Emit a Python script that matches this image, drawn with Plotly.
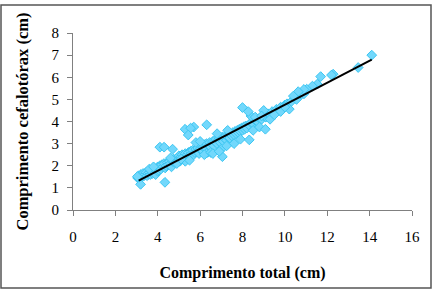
import plotly.graph_objects as go

# Scatter data: comprimento total (cm) vs comprimento cefalotórax (cm)
total_cm = [
    3.05, 3.1, 3.15, 3.2, 3.25, 3.3, 3.35, 3.4, 3.45, 3.5, 3.55, 3.6, 3.65, 3.7, 3.75, 3.8, 3.85, 3.9, 3.95, 4.0,
    4.0, 4.05, 4.1, 4.1, 4.15, 4.2, 4.25, 4.3, 4.35, 4.4, 4.45, 4.5, 4.55, 4.6, 4.65, 4.7, 4.75, 4.8, 4.85, 4.9,
    4.95, 5.0, 5.0, 5.05, 5.1, 5.15, 5.2, 5.25, 5.3, 5.35, 5.4, 5.45, 5.5, 5.55, 5.6, 5.65, 5.7, 5.75, 5.8, 5.85,
    5.9, 5.95, 6.0, 6.05, 6.1, 6.15, 6.2, 6.25, 6.3, 6.35, 6.4, 6.45, 6.5, 6.55, 6.6, 6.65, 6.7, 6.75, 6.8, 6.85,
    6.9, 6.95, 7.0, 7.05, 7.1, 7.15, 7.2, 7.25, 7.3, 7.35, 7.4, 7.45, 7.5, 7.55, 7.6, 7.65, 7.7, 7.75, 7.8, 7.85,
    7.9, 7.95, 8.0, 8.05, 8.1, 8.15, 8.2, 8.3, 8.4, 8.5, 8.6, 8.7, 8.8, 8.9, 9.0, 9.1, 9.2, 9.3, 9.4, 9.5,
    9.6, 9.7, 9.8, 9.9, 10.0, 10.1, 10.3, 10.5, 10.7, 10.9,
    5.3, 5.5, 6.2, 6.5, 6.6, 7.0, 7.6, 7.9, 8.5, 8.8, 5.8, 6.0, 6.8, 7.3, 8.4, 9.0,
    14.1, 13.46, 12.28, 12.2, 11.69, 11.53, 11.3, 11.03, 10.9, 10.63, 10.55, 10.21, 10.4,
    8.0, 8.27, 8.32, 9.08, 6.31, 5.29, 5.7, 5.55, 5.44, 4.1, 4.3, 4.7, 4.34, 3.19, 3.04,
    7.05, 7.25, 6.9, 4.6, 4.9, 5.1, 3.6, 3.8, 9.8, 10.0, 9.3, 9.5, 8.6, 8.9,
]
cefalotorax_cm = [
    1.45, 1.55, 1.4, 1.6, 1.5, 1.65, 1.55, 1.6, 1.7, 1.55, 1.65, 1.7, 1.6, 1.75, 1.65, 1.8, 1.7, 1.6, 1.85, 1.75,
    1.95, 1.8, 1.9, 2.0, 1.85, 2.05, 1.95, 2.1, 1.9, 2.0, 2.15, 2.05, 2.2, 2.1, 1.95, 2.2, 2.3, 2.15, 2.25, 2.35,
    2.2, 2.3, 2.45, 2.2, 2.4, 2.5, 2.35, 2.45, 2.55, 2.3, 2.5, 2.6, 2.45, 2.65, 2.55, 2.7, 2.5, 2.6, 2.75, 2.65,
    2.8, 2.55, 2.75, 2.9, 2.7, 2.85, 2.95, 2.8, 3.0, 2.6, 2.9, 3.05, 2.85, 3.0, 3.1, 2.9, 3.1, 3.2, 3.0, 3.15,
    3.25, 3.05, 3.2, 3.3, 3.1, 3.25, 3.35, 3.15, 3.3, 3.4, 3.25, 3.45, 3.35, 3.5, 3.4, 3.55, 3.45, 3.6, 3.5, 3.65,
    3.55, 3.7, 3.6, 3.75, 3.65, 3.8, 3.7, 3.85, 3.95, 3.9, 4.05, 4.0, 4.15, 4.1, 4.25, 4.2, 4.35, 4.3, 4.45, 4.4,
    4.55, 4.5, 4.65, 4.6, 4.75, 4.8, 4.9, 5.05, 5.15, 5.25,
    2.2, 2.25, 2.5, 2.6, 2.55, 2.75, 3.0, 3.2, 3.6, 3.75, 3.05, 3.1, 3.45, 3.6, 4.25, 4.5,
    7.0, 6.44, 6.14, 6.1, 6.03, 5.69, 5.6, 5.46, 5.45, 5.35, 5.0, 4.56, 5.15,
    4.63, 4.45, 3.17, 3.65, 3.85, 3.65, 3.75, 3.7, 3.39, 2.84, 2.84, 2.75, 1.25, 1.16, 1.51,
    2.41, 2.9, 2.65, 2.35, 2.1, 2.3, 1.85, 1.95, 4.45, 4.65, 4.1, 4.3, 4.2, 4.25,
]

# Linear trend line endpoints
fit_x = [3.1, 14.1]
fit_y = [1.33, 6.8]

x_ticks = [0, 2, 4, 6, 8, 10, 12, 14, 16]
y_ticks = [0, 1, 2, 3, 4, 5, 6, 7, 8]

W, H = 435, 290
L, R, T, B = 73, 23, 33, 80
pw, ph = W - L - R, H - T - B

fig = go.Figure()
fig.add_trace(go.Scatter(
    x=total_cm, y=cefalotorax_cm, mode="markers",
    marker=dict(symbol="diamond", size=7.5, color="#72d8fc",
                line=dict(color="#3cc6f2", width=1)),
    showlegend=False, hoverinfo="skip",
))
fig.add_trace(go.Scatter(
    x=fit_x, y=fit_y, mode="lines",
    line=dict(color="black", width=2),
    showlegend=False, hoverinfo="skip",
))

font_family = "Liberation Serif, Times New Roman, serif"
axis_common = dict(
    showgrid=False, zeroline=False, showline=True, linecolor="#808080", linewidth=1,
    ticks="outside", tickcolor="#808080", ticklen=5, tickwidth=1,
    tickfont=dict(family=font_family, size=15, color="black"),
)

fig.update_layout(
    width=W, height=H,
    margin=dict(l=L, r=R, t=T, b=B),
    paper_bgcolor="white", plot_bgcolor="white",
    xaxis=dict(range=[0, 16], tickvals=x_ticks, ticktext=[str(v) for v in x_ticks],
               ticklabelstandoff=8,
               title=dict(text="<b>Comprimento total (cm)</b>", standoff=22,
                          font=dict(family=font_family, size=16, color="black")),
               **axis_common),
    yaxis=dict(range=[0, 8], tickvals=y_ticks, ticktext=[str(v) for v in y_ticks],
               ticklabelstandoff=5,
               title=dict(text="<b>Comprimento cefalotórax (cm)</b>", standoff=18,
                          font=dict(family=font_family, size=16.5, color="black")),
               **axis_common),
    shapes=[dict(type="rect", xref="paper", yref="paper",
                 x0=(1 - L) / pw, x1=(431 - L) / pw,
                 y0=(H - 288 - B) / ph, y1=(H - 5 - B) / ph,
                 line=dict(color="#555555", width=1.5), fillcolor="rgba(0,0,0,0)",
                 layer="below")],
)

fig.write_html("out.html")
